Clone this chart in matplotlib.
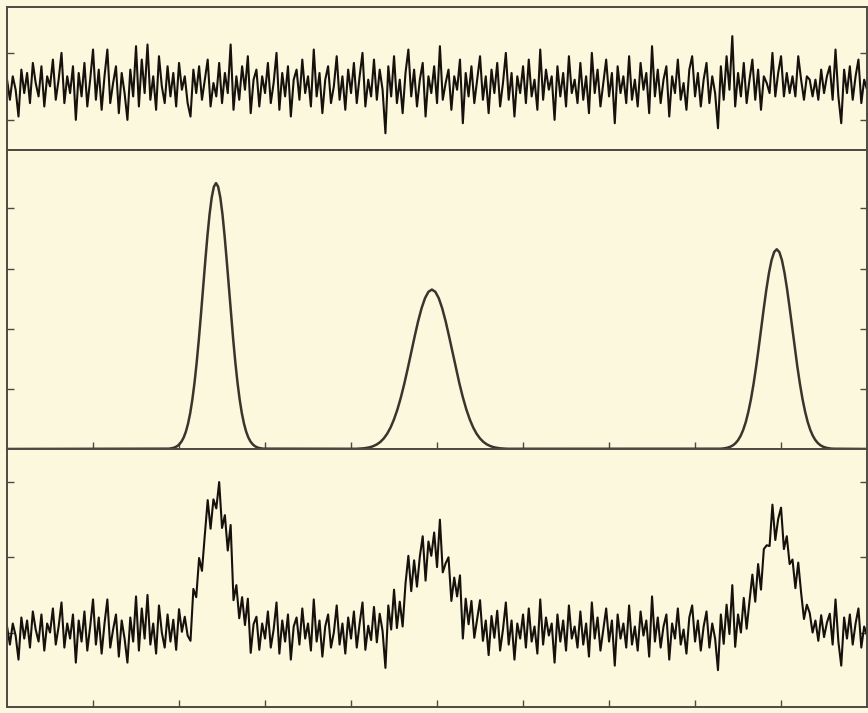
import numpy as np
import matplotlib
matplotlib.use("Agg")
import matplotlib.pyplot as plt

# noise trace shown in the top panel (301 evenly spaced samples over 0..10)
noise_top = [
    0.2, -0.4, 0.3, -0.1, -0.9, 0.5, -0.2, 0.4, -0.5, 0.7, 0.1, -0.3, 0.6, -0.6, 0.3, 0.0, 0.8, -0.4, 0.2, 1.0,
    -0.5, 0.3, -0.2, 0.6, -1.0, 0.4, -0.3, 0.7, -0.6, 0.2, 1.1, -0.4, 0.5, -0.7, 0.3, 1.1, -0.5, 0.1, 0.6, -0.8,
    0.4, -0.2, -1.0, 0.5, -0.3, 1.2, -0.6, 0.8, -0.2, 1.25, -0.4, 0.3, -0.7, 0.9, 0.0, -0.5, 0.6, -0.3, 0.4, -0.6,
    0.7, -0.1, 0.3, -0.5, -0.9, 0.5, -0.2, 0.6, -0.4, 0.2, 0.8, -0.6, 0.1, -0.3, 0.7, -0.5, 0.4, -0.2, 1.25, -0.7,
    0.3, -0.4, 0.6, -0.1, 0.9, -0.8, 0.2, 0.5, -0.6, 0.3, -0.2, 0.7, -0.5, 0.1, 1.0, -0.7, 0.4, -0.3, 0.6, -0.9,
    0.2, 0.5, -0.4, 0.8, -0.2, 0.3, -0.6, 1.1, -0.3, 0.4, -0.8, 0.2, 0.6, -0.5, 0.0, 0.9, -0.4, 0.3, -0.7, 0.5,
    -0.2, 0.7, -0.5, 0.3, 1.0, -0.6, 0.2, -0.3, 0.8, -0.4, 0.5, -0.1, -1.4, 0.6, -0.3, 0.9, -0.5, 0.2, -0.8, 0.4,
    1.1, -0.3, 0.5, -0.6, 0.2, 0.7, -0.9, 0.3, -0.2, 0.6, -0.5, 1.2, -0.4, 0.1, 0.5, -0.7, 0.3, -0.1, 0.8, -1.1,
    0.4, -0.3, 0.6, -0.5, 0.2, 0.9, -0.4, 0.3, -0.8, 0.5, -0.2, 0.7, -0.6, 0.1, 1.0, -0.4, 0.4, -0.9, 0.3, -0.2,
    0.6, -0.5, 0.8, -0.3, 0.2, -0.7, 1.1, -0.4, 0.5, -0.1, 0.3, -1.0, 0.6, -0.3, 0.4, -0.6, 0.9, -0.2, 0.2, -0.5,
    0.7, -0.4, 0.3, -0.8, 1.0, -0.2, 0.5, -0.6, 0.1, 0.8, -0.3, 0.4, -1.1, 0.6, -0.2, 0.3, -0.5, 0.9, -0.4, 0.2,
    -0.6, 0.7, -0.1, 0.4, -0.8, 1.2, -0.3, 0.5, -0.5, 0.2, 0.6, -0.9, 0.3, -0.2, 0.8, -0.4, 0.1, -0.7, 0.5, 0.9,
    -0.3, 0.4, -0.6, 0.2, 0.7, -0.5, 0.3, -0.2, -1.25, 0.6, -0.4, 0.9, -0.1, 1.5, -0.6, 0.4, -0.3, 0.7, -0.5, 0.2,
    0.8, -0.4, 0.5, -0.7, 0.3, 0.1, -0.2, 1.0, -0.3, 0.4, 0.9, -0.3, 0.4, -0.2, 0.3, -0.3, 0.9, 0.2, -0.4, 0.3,
    0.2, -0.3, 0.2, -0.4, 0.5, -0.2, 0.3, 0.6, -0.4, 1.1, -0.3, -1.1, 0.5, -0.2, 0.6, -0.4, 0.3, 0.8, -0.5, 0.2,
    -0.1,
]

# clean peaks in the middle panel: each read on its own evenly spaced grid
peak1_range = (1.88, 2.98)
peak1_y = [
    0.005, 0.010, 0.017, 0.029, 0.049, 0.080, 0.126, 0.194, 0.290, 0.423, 0.597, 0.823, 1.101, 1.435, 1.817, 2.238,
    2.683, 3.123, 3.540, 3.901, 4.181, 4.359, 4.42, 4.359, 4.181, 3.901, 3.540, 3.123, 2.683, 2.238, 1.817, 1.435,
    1.101, 0.823, 0.597, 0.423, 0.290, 0.194, 0.126, 0.080, 0.049, 0.029, 0.017, 0.010, 0.005,
]
peak2_range = (4.06, 5.82)
peak2_y = [
    0.003, 0.006, 0.010, 0.018, 0.029, 0.048, 0.076, 0.116, 0.174, 0.253, 0.358, 0.494, 0.660, 0.860, 1.089, 1.342,
    1.609, 1.872, 2.123, 2.339, 2.507, 2.613, 2.65, 2.613, 2.507, 2.339, 2.123, 1.872, 1.609, 1.342, 1.089, 0.860,
    0.660, 0.494, 0.358, 0.253, 0.174, 0.116, 0.076, 0.048, 0.029, 0.018, 0.010, 0.006, 0.003,
]
peak3_range = (8.29, 9.61)
peak3_y = [
    0.004, 0.007, 0.013, 0.022, 0.037, 0.060, 0.095, 0.146, 0.218, 0.317, 0.448, 0.619, 0.827, 1.078, 1.365, 1.681,
    2.015, 2.346, 2.659, 2.930, 3.141, 3.274, 3.32, 3.274, 3.141, 2.930, 2.659, 2.346, 2.015, 1.681, 1.365, 1.078,
    0.827, 0.619, 0.448, 0.317, 0.218, 0.146, 0.095, 0.060, 0.037, 0.022, 0.013, 0.007, 0.004,
]

# noisy measurement in the bottom panel (same 301 samples)
signal_noisy = [
    0.08, -0.16, 0.12, -0.04, -0.36, 0.2, -0.08, 0.16, -0.2, 0.28, 0.04, -0.12, 0.24, -0.24, 0.12, 0.0, 0.32, -0.16, 0.08, 0.4,
    -0.2, 0.12, -0.08, 0.24, -0.4, 0.16, -0.12, 0.28, -0.24, 0.08, 0.44, -0.16, 0.2, -0.28, 0.12, 0.44, -0.2, 0.04, 0.24, -0.32,
    0.16, -0.08, -0.4, 0.2, -0.12, 0.48, -0.24, 0.32, -0.08, 0.5, -0.16, 0.12, -0.28, 0.36, 0.0, -0.2, 0.24, -0.12, 0.17, -0.23,
    0.31, 0.01, 0.21, -0.04, -0.11, 0.58, 0.47, 0.99, 0.82, 1.3, 1.76, 1.38, 1.77, 1.65, 2.0, 1.39, 1.56, 1.09, 1.43, 0.43,
    0.63, 0.19, 0.47, 0.1, 0.45, -0.27, 0.11, 0.21, -0.23, 0.12, -0.08, 0.28, -0.2, 0.04, 0.4, -0.28, 0.16, -0.12, 0.24, -0.36,
    0.08, 0.2, -0.16, 0.32, -0.08, 0.12, -0.24, 0.44, -0.12, 0.16, -0.32, 0.08, 0.24, -0.2, 0.0, 0.36, -0.16, 0.12, -0.28, 0.2,
    -0.08, 0.28, -0.2, 0.12, 0.4, -0.23, 0.09, -0.1, 0.34, -0.13, 0.25, 0.02, -0.47, 0.36, 0.04, 0.57, 0.06, 0.41, 0.08, 0.65,
    1.02, 0.55, 0.96, 0.61, 1.01, 1.28, 0.69, 1.21, 1.02, 1.33, 0.87, 1.5, 0.8, 0.92, 1.0, 0.42, 0.73, 0.48, 0.76, -0.08,
    0.45, 0.11, 0.42, -0.07, 0.18, 0.43, -0.11, 0.16, -0.3, 0.22, -0.07, 0.29, -0.24, 0.04, 0.4, -0.16, 0.16, -0.36, 0.12, -0.08,
    0.24, -0.2, 0.32, -0.12, 0.08, -0.28, 0.44, -0.16, 0.2, -0.04, 0.12, -0.4, 0.24, -0.12, 0.16, -0.24, 0.36, -0.08, 0.08, -0.2,
    0.28, -0.16, 0.12, -0.32, 0.4, -0.08, 0.2, -0.24, 0.04, 0.32, -0.12, 0.16, -0.44, 0.24, -0.08, 0.12, -0.2, 0.36, -0.16, 0.08,
    -0.24, 0.28, -0.04, 0.16, -0.32, 0.48, -0.12, 0.2, -0.2, 0.08, 0.24, -0.36, 0.12, -0.08, 0.32, -0.16, 0.04, -0.28, 0.2, 0.36,
    -0.12, 0.16, -0.24, 0.08, 0.28, -0.2, 0.12, -0.08, -0.5, 0.24, -0.15, 0.37, -0.02, 0.63, -0.19, 0.24, 0.0, 0.46, 0.05, 0.42,
    0.77, 0.41, 0.91, 0.57, 1.11, 1.16, 1.15, 1.7, 1.23, 1.51, 1.66, 1.11, 1.28, 0.91, 0.97, 0.59, 0.93, 0.53, 0.18, 0.37,
    0.26, 0.0, 0.16, -0.11, 0.23, -0.06, 0.13, 0.25, -0.16, 0.44, -0.12, -0.44, 0.2, -0.08, 0.24, -0.16, 0.12, 0.32, -0.2, 0.08,
    -0.04,
]

sample_x = np.linspace(0, 10, len(noise_top))
x_ticks = [1, 2, 3, 4, 5, 6, 7, 8, 9]

# join the three peaks on a flat zero baseline
peaks_x = [0.0]
peaks_y = [0.0]
for (a, b), ys in ((peak1_range, peak1_y), (peak2_range, peak2_y), (peak3_range, peak3_y)):
    peaks_x += list(np.linspace(a, b, len(ys)))
    peaks_y += ys
peaks_x.append(10.0)
peaks_y.append(0.0)

bg = "#fbf8de"
frame = "#4d4a44"
ink = "#15110c"

fig = plt.figure(figsize=(8.68, 7.13), dpi=100, facecolor=bg)
left, width = 0.0081, 0.9908
ax_top = fig.add_axes([left, 0.7896, width, 0.2006])
ax_mid = fig.add_axes([left, 0.3703, width, 0.4193])
ax_bot = fig.add_axes([left, 0.0084, width, 0.3619])

ax_top.plot(sample_x, noise_top, color=ink, linewidth=1.5)
ax_top.set_ylim(-1.9, 2.37)
ax_top.set_yticks([-1, 1])
ax_top.set_xticks([])

ax_mid.plot(peaks_x, peaks_y, color="#3a342c", linewidth=1.8)
ax_mid.set_ylim(0, 4.97)
ax_mid.set_yticks([1, 2, 3, 4])
ax_mid.set_xticks(x_ticks)

ax_bot.plot(sample_x, signal_noisy, color=ink, linewidth=1.5)
ax_bot.set_ylim(-0.99, 2.44)
ax_bot.set_yticks([0, 1, 2])
ax_bot.set_xticks(x_ticks)

for ax in (ax_top, ax_mid, ax_bot):
    ax.set_facecolor(bg)
    ax.set_xlim(0, 10)
    ax.tick_params(direction="in", length=5, width=1, color=frame,
                   left=True, right=True, top=False, bottom=True,
                   labelleft=False, labelbottom=False)
    for s in ax.spines.values():
        s.set_color(frame)
        s.set_linewidth(1.4)

fig.savefig("out.png", dpi=100, facecolor=bg)
